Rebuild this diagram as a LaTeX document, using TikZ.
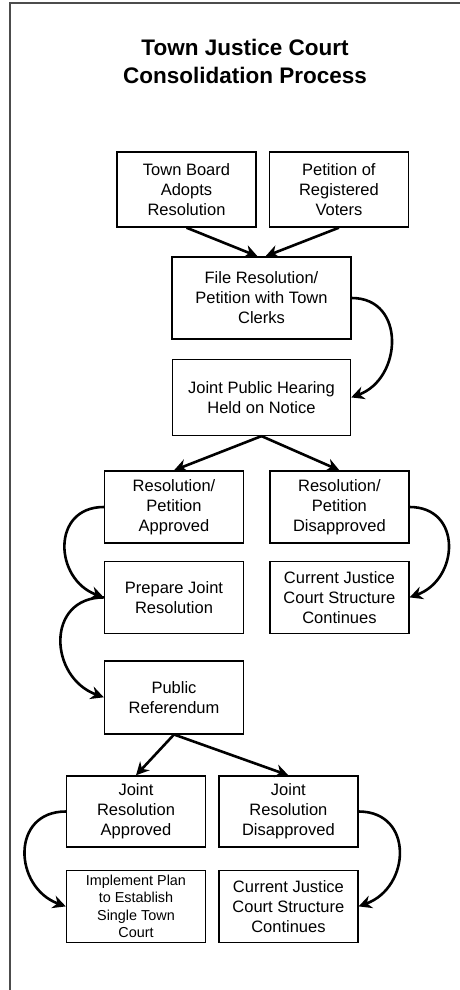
\documentclass[tikz,border=0pt]{standalone}
\usepackage{fontspec}
\setmainfont{Liberation Sans}
\usetikzlibrary{arrows.meta,positioning}
\tikzset{
  procbox/.style={draw, line width=1.4pt, minimum width=139pt, minimum height=72pt,
    align=center, inner sep=2pt, font=\fontsize{16.5}{20}\selectfont},
  smallbox/.style={procbox, font=\fontsize{14.4}{17.3}\selectfont},
  flow/.style={line width=2.6pt, -{Stealth[length=13pt,width=13pt]}},
}
\begin{document}
\begin{tikzpicture}[x=1pt,y=1pt]
  \useasboundingbox (0,0) rectangle (460,-990);
  % outer frame
  \draw[black!70, line width=1.8pt] (10,-3) rectangle (480,-1010);
  \node[font=\fontsize{22.5}{28}\selectfont\bfseries, align=center] (title) at (245,-61)
    {Town Justice Court\\Consolidation Process};

  % start
  \node[procbox, minimum height=75pt] (board) at (186.5,-189.5) {Town Board\\Adopts\\Resolution};
  \node[procbox, minimum height=75pt, right=12pt of board] (petition) {Petition of\\Registered\\Voters};
  \node[procbox, minimum width=179pt, minimum height=82pt] (file) at (261.5,-298)
    {File Resolution/\\Petition with Town\\Clerks};
  \node[procbox, minimum width=178pt, minimum height=76pt, below=19pt of file] (hearing)
    {Joint Public Hearing\\Held on Notice};

  % first decision
  \node[procbox] (resok) at (174,-507) {Resolution/\\Petition\\Approved};
  \node[procbox, right=25pt of resok] (resno) {Resolution/\\Petition\\Disapproved};
  \node[procbox, below=17pt of resok] (prepare) {Prepare Joint\\Resolution};
  \node[procbox, right=25pt of prepare] (curA) {Current Justice\\Court Structure\\Continues};
  \node[procbox, minimum height=73pt, below=26pt of prepare] (referendum) {Public\\Referendum};

  % referendum result
  \node[procbox, minimum height=71pt] (jointok) at (136,-811.5) {Joint\\Resolution\\Approved};
  \node[procbox, minimum height=71pt, right=12pt of jointok] (jointno) {Joint\\Resolution\\Disapproved};
  \node[smallbox, below=22pt of jointok] (implement)
    {Implement Plan\\to Establish\\Single Town\\Court};
  \node[procbox, right=12pt of implement] (curB) {Current Justice\\Court Structure\\Continues};

  \draw[flow] (board.south) -- ([xshift=-4pt]file.north);
  \draw[flow] (petition.south) -- ([xshift=4pt]file.north);
  \draw[flow] (file.east) to[out=0, in=20, looseness=1.4] (hearing.east);
  \draw[flow] (hearing.south) -- (resok.north);
  \draw[flow] (hearing.south) -- (resno.north);
  \draw[flow] (resok.west) to[out=180, in=160, looseness=1.5] (prepare.west);
  \draw[flow] (resno.east) to[out=0, in=20, looseness=1.5] (curA.east);
  \draw[flow] (prepare.west) to[out=180, in=160, looseness=1.5] (referendum.west);
  \draw[flow] (referendum.south) -- (jointok.north);
  \draw[flow] (referendum.south) -- (jointno.north);
  \draw[flow] (jointok.west) to[out=180, in=160, looseness=1.5] (implement.west);
  \draw[flow] (jointno.east) to[out=0, in=20, looseness=1.5] (curB.east);
\end{tikzpicture}
\end{document}
